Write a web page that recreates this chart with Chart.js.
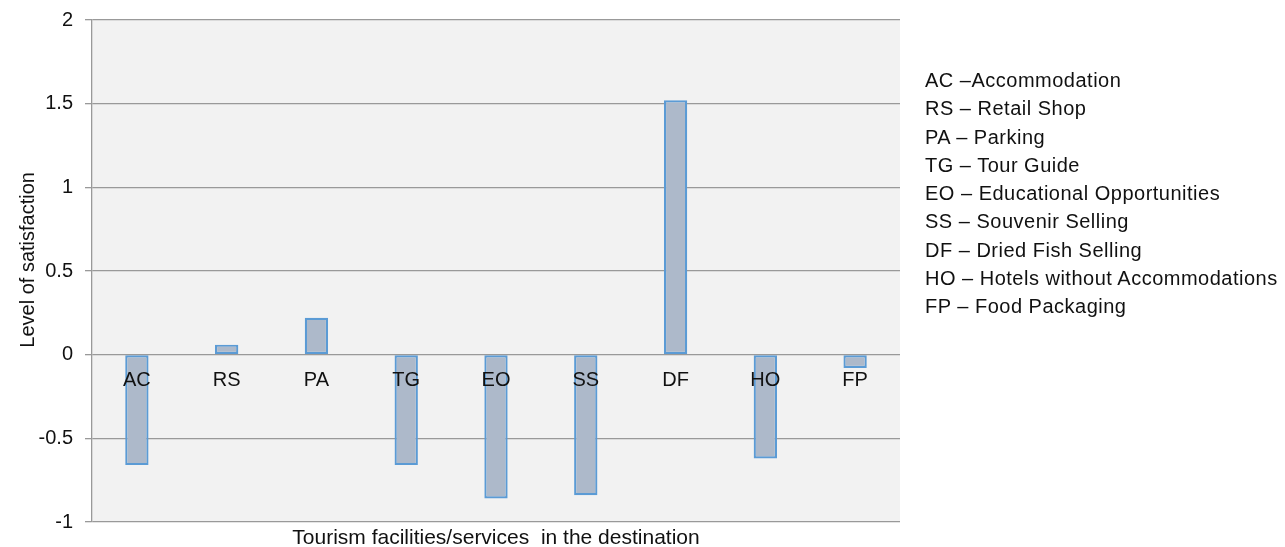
<!DOCTYPE html>
<html>
<head>
<meta charset="utf-8">
<script src="https://cdn.jsdelivr.net/npm/chart.js@4"></script>
<style>
  html, body { margin: 0; padding: 0; background: #fff; }
  #wrap { position: relative; width: 1285px; height: 547px; }
  #legend {
    position: absolute; left: 925px; top: 66px;
    font-family: "Liberation Sans", Arial, sans-serif;
    font-size: 20px; line-height: 28.3px; letter-spacing: 0.5px;
    color: #111; white-space: pre;
  }
</style>
</head>
<body>
<div id="wrap">
  <canvas id="chart" width="1285" height="547"></canvas>
  <div id="legend"></div>
</div>
<script>
// categories and values
const codes = ['AC', 'RS', 'PA', 'TG', 'EO', 'SS', 'DF', 'HO', 'FP'];
const satisfaction = [-0.66, 0.06, 0.22, -0.66, -0.86, -0.84, 1.52, -0.62, -0.08];
const legendLines = [
  'AC \u2013Accommodation',
  'RS \u2013 Retail Shop',
  'PA \u2013 Parking',
  'TG \u2013 Tour Guide',
  'EO \u2013 Educational Opportunities',
  'SS \u2013 Souvenir Selling',
  'DF \u2013 Dried Fish Selling',
  'HO \u2013 Hotels without Accommodations',
  'FP \u2013 Food Packaging'
];
const yMin = -1;
const yMax = 2;
const yStep = 0.5;
const yTitle = 'Level of satisfaction';
const xTitle = 'Tourism facilities/services  in the destination';

document.getElementById('legend').textContent = legendLines.join('\n');

const FONT = '"Liberation Sans", Arial, sans-serif';
const GRID = '#999999';

// grey plot background
const plotBg = {
  id: 'plotBg',
  beforeDraw(chart) {
    const { ctx, chartArea: a } = chart;
    ctx.save();
    ctx.fillStyle = '#f2f2f2';
    ctx.fillRect(a.left, a.top, a.right - a.left, a.bottom - a.top);
    ctx.restore();
  }
};

new Chart(document.getElementById('chart'), {
  type: 'bar',
  data: {
    labels: codes,
    datasets: [{
      data: satisfaction,
      backgroundColor: '#adb9ca',
      borderColor: '#5b9bd5',
      borderWidth: 2.2,
      borderSkipped: false,
      barPercentage: 0.26,
      categoryPercentage: 1
    }]
  },
  options: {
    responsive: false,
    animation: false,
    layout: { padding: { left: 0, top: 20, right: 385, bottom: 0 } },
    plugins: { legend: { display: false }, tooltip: { enabled: false } },
    scales: {
      x: {
        axis: 'x',
        position: { y: 0 },
        grid: { display: false, drawTicks: false },
        border: { display: false },
        // labels sit on top of the bars
        ticks: { z: 1, color: '#111', padding: 14, font: { family: FONT, size: 20 } }
      },
      xTitle: {
        type: 'category',
        axis: 'x',
        position: 'bottom',
        grid: { display: false, drawTicks: false },
        border: { display: false },
        ticks: { display: false },
        title: {
          display: true, text: xTitle, color: '#111',
          font: { family: FONT, size: 21, lineHeight: 0.8 },
          padding: 0
        },
        afterFit(scale) { scale.height = 25; }
      },
      y: {
        min: yMin,
        max: yMax,
        ticks: {
          stepSize: yStep, color: '#111', padding: 12,
          font: { family: FONT, size: 20, lineHeight: 1 },
          callback: v => String(v)
        },
        grid: { color: GRID, lineWidth: 1.3, tickLength: 7 },
        border: { color: GRID, width: 1.3 },
        title: {
          display: true, text: '    ' + yTitle, color: '#111',
          font: { family: FONT, size: 20 },
          padding: { top: 16, bottom: 0 }
        },
        afterFit(scale) {
          scale.width = 92;
          scale.paddingTop = 0;
          scale.paddingBottom = 0;
        }
      }
    }
  },
  plugins: [plotBg]
});
</script>
</body>
</html>
